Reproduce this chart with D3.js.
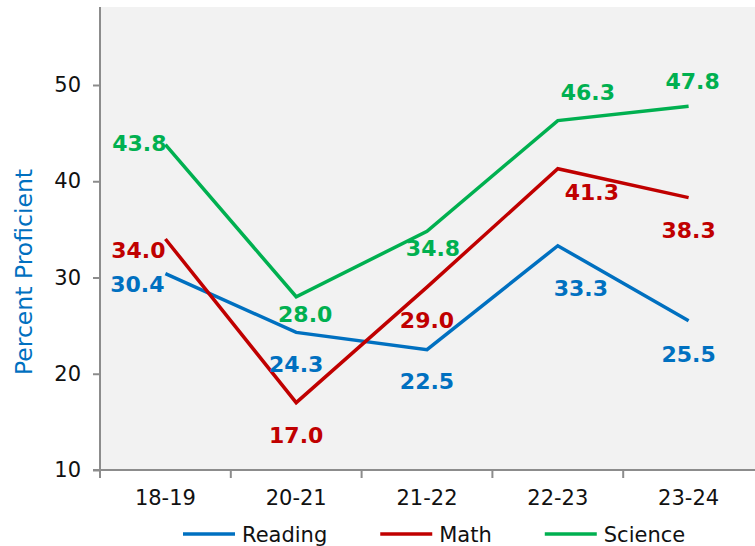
<!DOCTYPE html>
<html>
<head>
<meta charset="utf-8">
<script src="https://cdn.jsdelivr.net/npm/d3@7"></script>
<style>
  html, body { margin: 0; padding: 0; background: #ffffff; }
  svg { display: block; font-family: "DejaVu Sans", Verdana, sans-serif; }
</style>
</head>
<body>
<svg id="chart" width="755" height="546"></svg>
<script>
// ---- data ----
const years = ["18-19", "20-21", "21-22", "22-23", "23-24"];
const reading = [30.4, 24.3, 22.5, 33.3, 25.5];
const math = [34.0, 17.0, 29.0, 41.3, 38.3];
const science = [43.8, 28.0, 34.8, 46.3, 47.8];
const seriesNames = ["Reading", "Math", "Science"];
const yTicks = [10, 20, 30, 40, 50];
const yTitle = "Percent Proficient";

// ---- styling / label placement (not data) ----
const colors = { Reading: "#0070C0", Math: "#C00000", Science: "#00B050" };
const labelOffsets = {
  Reading: [[-28, 10], [0, 32], [0, 31], [23, 42], [0, 33]],
  Math:    [[-27, 11], [0, 32], [0, 33], [34, 23], [0, 32]],
  Science: [[-26, -2], [9, 17], [6, 17], [30, -29], [4, -25]]
};

const series = [
  { name: "Reading", values: reading },
  { name: "Math", values: math },
  { name: "Science", values: science }
];

const svg = d3.select("#chart");
const plot = { left: 100, right: 754, top: 8, bottom: 470 };

const x = d3.scaleBand().domain(years).range([plot.left, plot.right]).padding(0);
const xc = d => x(d) + x.bandwidth() / 2;
const y = d3.scaleLinear().domain([10, 58]).range([plot.bottom, plot.top]);

// plot background
svg.append("rect")
  .attr("x", plot.left).attr("y", plot.top - 1)
  .attr("width", 755 - plot.left).attr("height", plot.bottom - plot.top + 1)
  .attr("fill", "#F2F2F2");

const axisColor = "#8C8C8C";

// y axis
const yAxis = svg.append("g")
  .attr("transform", `translate(${plot.left},0)`)
  .call(d3.axisLeft(y).tickValues(yTicks).tickSize(7).tickPadding(12).tickFormat(d3.format("d")));
yAxis.select(".domain").remove();
yAxis.selectAll(".tick line").attr("stroke", axisColor).attr("stroke-width", 2);
yAxis.selectAll(".tick text")
  .attr("font-size", 21).attr("fill", "#111").attr("font-family", "DejaVu Sans, sans-serif");
svg.append("line")
  .attr("x1", plot.left).attr("x2", plot.left)
  .attr("y1", plot.top - 1).attr("y2", plot.bottom)
  .attr("stroke", axisColor).attr("stroke-width", 2);

// x axis
const xAxisG = svg.append("g").attr("transform", `translate(0,${plot.bottom})`);
xAxisG.append("line")
  .attr("x1", plot.left - 7).attr("x2", 755)
  .attr("stroke", axisColor).attr("stroke-width", 2);
years.forEach(yr => {
  xAxisG.append("line")
    .attr("x1", x(yr)).attr("x2", x(yr)).attr("y1", 0).attr("y2", 8)
    .attr("stroke", axisColor).attr("stroke-width", 2);
  xAxisG.append("text")
    .attr("x", xc(yr)).attr("y", 35)
    .attr("text-anchor", "middle").attr("font-size", 21).attr("fill", "#111")
    .text(yr);
});

// y title
svg.append("text")
  .attr("transform", `translate(32, 272) rotate(-90)`)
  .attr("text-anchor", "middle")
  .attr("font-size", 23.5)
  .attr("fill", "#0070C0")
  .text(yTitle);

// lines
const line = d3.line().x((d, i) => xc(years[i])).y(d => y(d));
series.forEach(s => {
  svg.append("path")
    .attr("d", line(s.values))
    .attr("fill", "none")
    .attr("stroke", colors[s.name])
    .attr("stroke-width", 3.5)
    .attr("stroke-linejoin", "miter");
});

// data labels
series.forEach(s => {
  s.values.forEach((v, i) => {
    const off = labelOffsets[s.name][i];
    svg.append("text")
      .attr("x", xc(years[i]) + off[0])
      .attr("y", y(v) + off[1])
      .attr("dy", "0.36em")
      .attr("text-anchor", "middle")
      .attr("font-size", 22)
      .attr("font-weight", "bold")
      .attr("fill", colors[s.name])
      .text(d3.format(".1f")(v));
  });
});

// legend
const legend = svg.append("g").attr("transform", "translate(183,534)");
let lx = 0;
seriesNames.forEach(name => {
  legend.append("line")
    .attr("x1", lx).attr("x2", lx + 52).attr("y1", 0).attr("y2", 0)
    .attr("stroke", colors[name]).attr("stroke-width", 3.5);
  const t = legend.append("text")
    .attr("x", lx + 59).attr("y", 8)
    .attr("font-size", 21).attr("fill", "#111")
    .text(name);
  lx += 59 + t.node().getComputedTextLength() + 53;
});
</script>
</body>
</html>
